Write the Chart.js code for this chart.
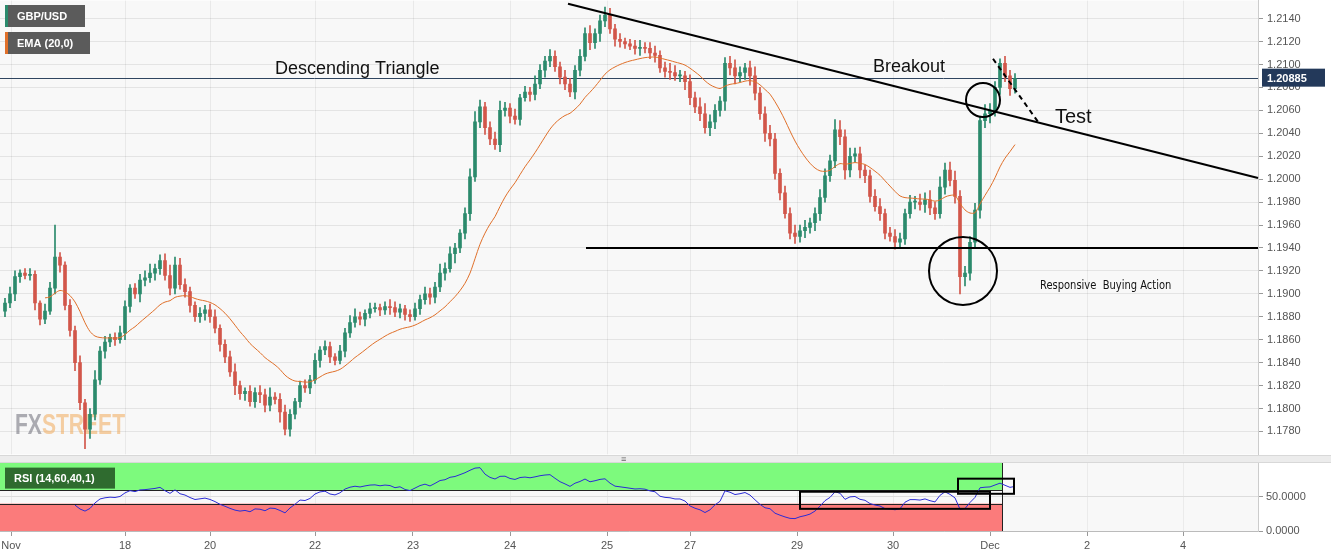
<!DOCTYPE html>
<html><head><meta charset="utf-8">
<script src="https://cdn.jsdelivr.net/npm/chart.js@4.4.1/dist/chart.umd.min.js"></script>
<style>
html,body{margin:0;padding:0;background:#fff;width:1331px;height:558px;overflow:hidden;font-family:Arial,"Liberation Sans",sans-serif}
#main{position:absolute;left:0;top:0;width:1331px;height:455px;overflow:hidden}
#main .in{position:absolute;left:0;top:-10px;width:1331px;height:475px}
#rsi{position:absolute;left:0;top:463px;width:1331px;height:95px;overflow:hidden}
#rsi .in{position:absolute;left:0;top:-10px;width:1331px;height:105px}
#sep{position:absolute;left:0;top:455px;width:1331px;height:8px;background:#ececec;border-top:1px solid #d8d8d8;border-bottom:1px solid #d8d8d8;box-sizing:border-box}
#sep span{position:absolute;left:621px;top:0px;font-size:9px;color:#666;line-height:7px}
</style></head><body>
<div id="main"><div class="in"><canvas id="c1"></canvas></div></div>
<div id="sep"><span>&#8801;</span></div>
<div id="rsi"><div class="in"><canvas id="c2"></canvas></div></div>
<script>
// ---- data ----
const closes = [
1.1892,1.1900,1.1915,1.1918,1.1916,1.1917,1.1892,1.1878,1.1885,1.1905,1.1932,1.1925,1.1890,1.1868,1.1840,1.1805,1.1782,1.1795,1.1825,1.1850,
1.1858,1.1862,1.1860,1.1866,1.1889,1.1905,1.1900,1.1912,1.1914,1.1918,1.1922,1.1929,1.1916,1.1905,1.1925,1.1908,1.1902,1.1890,1.1880,1.1883,
1.1886,1.1880,1.1870,1.1856,1.1845,1.1832,1.1820,1.1813,1.1815,1.1806,1.1814,1.1812,1.1803,1.1810,1.1808,1.1797,1.1782,1.1795,1.1806,1.1820,
1.1818,1.1825,1.1842,1.1851,1.1854,1.1845,1.1842,1.1850,1.1866,1.1875,1.1880,1.1878,1.1883,1.1887,1.1888,1.1886,1.1889,1.1888,1.1884,1.1887,
1.1882,1.1880,1.1887,1.1895,1.1900,1.1897,1.1906,1.1918,1.1922,1.1935,1.1940,1.1953,1.1970,1.2002,1.2050,1.2063,1.2045,1.2035,1.2030,1.2060,
1.2062,1.2055,1.2052,1.2071,1.2076,1.2074,1.2083,1.2095,1.2103,1.2107,1.2098,1.2089,1.2083,1.2076,1.2095,1.2107,1.2127,1.2119,1.2127,1.2138,
1.2143,1.2131,1.2122,1.2120,1.2118,1.2116,1.2114,1.2115,1.2114,1.2110,1.2108,1.2097,1.2094,1.2093,1.2090,1.2090,1.2085,1.2071,1.2063,1.2057,
1.2045,1.2050,1.2060,1.2068,1.2101,1.2097,1.2090,1.2093,1.2097,1.2090,1.2075,1.2057,1.2040,1.2035,1.2005,1.1988,1.1970,1.1953,1.1950,1.1955,
1.1958,1.1962,1.1970,1.1984,1.2003,1.2016,1.2043,1.2037,1.2008,1.2020,1.2022,1.2008,1.2003,1.1985,1.1976,1.1970,1.1953,1.1950,1.1945,1.1948,
1.1970,1.1980,1.1980,1.1978,1.1982,1.1975,1.1970,1.1993,1.2008,1.1999,1.1985,1.1915,1.1918,1.1945,1.1973,1.2051,1.2057,1.2060,1.2080,1.2101,
1.2090,1.2079,1.2088];
const firstOpen = 1.1885;
const wickUpPips = [
4,6,5,3,4,5,3,2,6,5,28,4,3,5,4,6,3,5,8,4,
5,3,4,6,5,3,4,5,6,8,4,5,6,9,7,6,5,4,3,5,
4,5,6,3,4,5,7,4,3,5,4,6,5,8,4,5,6,4,3,4,
5,4,6,3,5,4,3,5,4,6,7,4,3,5,4,3,4,6,5,4,
3,4,5,4,6,5,4,8,5,6,4,3,5,7,9,6,4,5,6,8,
5,4,6,3,5,4,7,5,4,6,5,4,6,5,4,6,5,7,4,5,
7,6,4,5,3,4,5,6,4,5,6,4,5,7,6,5,4,6,5,8,
9,6,5,4,5,6,7,5,4,6,8,5,6,7,5,4,6,5,7,5,
6,4,5,7,6,5,9,8,6,7,5,6,4,5,6,7,4,5,6,5,
4,6,5,7,6,8,5,9,6,7,8,5,6,5,6,4,8,6,5,4,
6,5,4];
const wickDnPips = [
5,4,6,5,3,4,6,5,4,3,5,6,4,5,7,6,17,8,5,4,
6,4,5,3,6,5,4,7,5,4,6,5,4,6,5,4,5,6,4,5,
6,5,4,6,5,4,8,5,6,4,5,7,6,5,4,9,5,6,4,5,
4,5,3,6,4,5,4,3,5,4,4,5,6,4,3,5,4,6,4,5,
5,4,3,5,4,6,5,4,6,3,8,4,5,6,4,5,6,5,4,6,
5,6,4,5,3,6,5,4,6,5,4,6,5,4,6,5,4,6,5,7,
5,4,6,5,4,3,5,6,4,5,6,4,5,6,4,5,7,6,5,6,
5,7,6,5,8,6,7,5,6,8,6,5,7,6,5,6,4,5,6,5,
6,5,7,6,4,5,6,7,8,6,5,7,6,5,4,6,5,4,6,5,
5,4,6,5,7,6,5,4,6,5,6,15,8,6,5,7,6,8,5,6,
5,6,4];
const dayLabels = ['Nov','18','20','22','23','24','25','27','29','30','Dec','2','4'];
const dayIndex = [1.2,24,41,62,81.6,101,120.4,137,158.4,177.6,197,216.4,235.6];
const priceTicks = [1.1780,1.1800,1.1820,1.1840,1.1860,1.1880,1.1900,1.1920,1.1940,1.1960,1.1980,1.2000,1.2020,1.2040,1.2060,1.2080,1.2100,1.2120,1.2140];
const lastPrice = 1.20885;
const trendLine = [[112.6,1.2153],[250.6,1.2001]];
const supportLine = [[116.2,1.1940],[250.6,1.1940]];
const testLine = [[197.6,1.2105],[206.6,1.2050]];
const circles = [[195.6,1.2069,17],[191.6,1.1920,34]];
const rsiBoxes = [[159,197,32.4,57.4],[190.6,201.8,54.4,76.5]];
const rsiBandEnd = 199.4;

// ---- derived ----
const opens = closes.map((c,i)=> i===0 ? firstOpen : closes[i-1]);
const highs = closes.map((c,i)=> Math.max(c,opens[i]) + wickUpPips[i]*0.0001);
const lows = closes.map((c,i)=> Math.min(c,opens[i]) - wickDnPips[i]*0.0001);
const GREEN='#2b8a6c', RED='#d2564a';
const cols = closes.map((c,i)=> c>=opens[i]?GREEN:RED);
const ema=[]; {const k=2/21; let e=closes[0]; closes.forEach((c,i)=>{e= i===0?c:c*k+e*(1-k); ema.push(i<8?null:e);});}
const rsi=[]; {let ag=0,al=0; for(let i=0;i<closes.length;i++){ if(i===0){rsi.push(null);continue;} const d=closes[i]-closes[i-1]; const g=Math.max(d,0), l=Math.max(-d,0);
 if(i<=14){ag+=g/14;al+=l/14; rsi.push(i<14?null:100-100/(1+ag/al));} else {ag=(ag*13+g)/14; al=(al*13+l)/14; rsi.push(100-100/(1+ag/(al||1e-9)));}}}

const XMIN=-1, XMAX=250.6;
const fixW = s=>{s.width=73;};
const noPad = s=>{s.paddingLeft=0;s.paddingRight=0;};

const annot = {
 id:'annot',
 beforeDatasetsDraw(ch){
  const {ctx,chartArea:a,scales:{x,y}}=ch;
  ctx.save();
  ctx.strokeStyle='rgba(0,0,0,0.06)'; ctx.lineWidth=1;
  dayIndex.forEach(d=>{const px=Math.round(x.getPixelForValue(d))+0.5; ctx.beginPath();ctx.moveTo(px,a.top);ctx.lineTo(px,a.bottom);ctx.stroke();});
  const py=Math.round(y.getPixelForValue(lastPrice))+0.5;
  ctx.strokeStyle='#2f4560'; ctx.beginPath(); ctx.moveTo(0,py); ctx.lineTo(a.right,py); ctx.stroke();
  ctx.font='bold 30px "Liberation Sans",Arial';
  ctx.textBaseline='alphabetic';
  const wa=ctx.measureText('FXSTREET').width, sc=110/wa;
  ctx.translate(15,444); ctx.scale(sc,1);
  ctx.fillStyle='rgba(120,120,130,0.6)'; ctx.fillText('FX',0,0);
  const w=ctx.measureText('FX').width;
  ctx.fillStyle='rgba(240,170,90,0.55)'; ctx.fillText('STREET',w,0);
  ctx.restore();
 },
 afterDatasetsDraw(ch){
  const {ctx,chartArea:a,scales:{x,y}}=ch;
  const P=(p)=>[x.getPixelForValue(p[0]),y.getPixelForValue(p[1])];
  ctx.save();
  ctx.strokeStyle='#000'; ctx.lineWidth=2;
  [trendLine,supportLine].forEach(l=>{const p1=P(l[0]),p2=P(l[1]);ctx.beginPath();ctx.moveTo(...p1);ctx.lineTo(...p2);ctx.stroke();});
  ctx.setLineDash([5,4]); {const p1=P(testLine[0]),p2=P(testLine[1]);ctx.beginPath();ctx.moveTo(...p1);ctx.lineTo(...p2);ctx.stroke();}
  ctx.setLineDash([]);
  circles.forEach(c=>{const p=P(c);ctx.beginPath();ctx.arc(p[0],p[1],c[2],0,Math.PI*2);ctx.stroke();});
  ctx.fillStyle='#111'; ctx.textBaseline='alphabetic';
  const T=10;
  ctx.font='18px Arial,"Liberation Sans"';
  ctx.fillText('Descending Triangle',275,74+T);
  ctx.fillText('Breakout',873,72+T);
  ctx.font='20px Arial,"Liberation Sans"';
  ctx.fillText('Test',1055,123+T);
  ctx.font='13px "Liberation Sans Narrow","DejaVu Sans Condensed",Arial';
  ctx.save(); ctx.translate(1040,289+T); ctx.scale(0.85,1); ctx.fillText('Responsive  Buying Action',0,0); ctx.restore();
  const box=(t,yy,w,c)=>{ctx.fillStyle='#5b5b5b';ctx.fillRect(5,yy,w,22);ctx.fillStyle=c;ctx.fillRect(5,yy,3,22);
   ctx.fillStyle='#fff';ctx.font='bold 11px Arial,"Liberation Sans"';ctx.fillText(t,17,yy+15);};
  box('GBP/USD',5+T,80,GREEN); box('EMA (20,0)',32+T,85,'#e0702a');
  const py=y.getPixelForValue(lastPrice);
  ctx.fillStyle='#23395a'; ctx.fillRect(1262,py-9,63,18);
  ctx.fillStyle='#fff'; ctx.font='bold 11px Arial,"Liberation Sans"'; ctx.fillText(lastPrice.toFixed(5),1267,py+4);
  ctx.restore();
 }
};
const bgPlugin={id:'bg',beforeDraw(ch){const {ctx,chartArea:a}=ch;ctx.save();ctx.fillStyle='#f8f8f8';ctx.fillRect(a.left,a.top,a.right-a.left,a.bottom-a.top);ctx.restore();}};

new Chart(document.getElementById('c1'),{
 type:'bar',
 data:{datasets:[
  {type:'line',data:ema.map((v,i)=>({x:i,y:v})),borderColor:'#e0702a',borderWidth:1,pointRadius:0,tension:0.3,order:0},
  {data:closes.map((c,i)=>({x:i,y:[lows[i],highs[i]]})),backgroundColor:cols,barThickness:1,grouped:false,order:2},
  {data:closes.map((c,i)=>({x:i,y:[opens[i],c]})),backgroundColor:cols,barThickness:3,grouped:false,minBarLength:1,order:1}
 ]},
 options:{responsive:true,maintainAspectRatio:false,animation:false,
  layout:{padding:0},
  plugins:{legend:{display:false},tooltip:{enabled:false}},
  scales:{
   x:{type:'linear',min:XMIN,max:XMAX,display:false,offset:false},
   y:{position:'right',min:1.1760,max:1.21557,afterFit:fixW,
      afterBuildTicks:s=>{s.ticks=priceTicks.map(v=>({value:v}));},
      ticks:{color:'#555',font:{size:11,family:'Arial'},callback:v=>v.toFixed(4),padding:4},
      grid:{color:'#e4e4e4',tickLength:5,tickColor:'#999'},border:{color:'#ccc'}}
  }},
 plugins:[bgPlugin,annot]
});

const rsiPlugin={id:'rsiP',
 beforeDatasetsDraw(ch){const {ctx,chartArea:a,scales:{x,y}}=ch; ctx.save();
  const xe=x.getPixelForValue(rsiBandEnd);
  ctx.fillStyle='#7dfa7d'; ctx.fillRect(a.left,y.getPixelForValue(100),xe-a.left,y.getPixelForValue(60)-y.getPixelForValue(100));
  ctx.fillStyle='#fb7b7b'; ctx.fillRect(a.left,y.getPixelForValue(40),xe-a.left,y.getPixelForValue(0)-y.getPixelForValue(40));
  ctx.strokeStyle='#222';ctx.lineWidth=1;
  [60,40].forEach(v=>{const py=Math.round(y.getPixelForValue(v))+0.5;ctx.beginPath();ctx.moveTo(a.left,py);ctx.lineTo(xe,py);ctx.stroke();});
  ctx.beginPath();ctx.moveTo(Math.round(xe)+0.5,a.top);ctx.lineTo(Math.round(xe)+0.5,a.bottom);ctx.stroke();
  ctx.restore();},
 afterDatasetsDraw(ch){const {ctx,chartArea:a,scales:{x,y}}=ch; ctx.save();
  ctx.strokeStyle='#000';ctx.lineWidth=2;
  rsiBoxes.forEach(b=>{const x1=x.getPixelForValue(b[0]),x2=x.getPixelForValue(b[1]),y1=y.getPixelForValue(b[3]),y2=y.getPixelForValue(b[2]);ctx.strokeRect(x1,y1,x2-x1,y2-y1);});
  ctx.fillStyle='#2f6b2f';ctx.fillRect(5,a.top+5,110,21);
  ctx.fillStyle='#fff';ctx.font='bold 11px "Liberation Sans Narrow",Arial';ctx.fillText('RSI (14,60,40,1)',14,a.top+19);
  ctx.restore();}
};
new Chart(document.getElementById('c2'),{
 type:'line',
 data:{datasets:[{data:rsi.map((v,i)=>({x:i,y:v})),borderColor:'#2b2bd6',borderWidth:1,pointRadius:0,tension:0}]},
 options:{responsive:true,maintainAspectRatio:false,animation:false,layout:{padding:0},
  plugins:{legend:{display:false},tooltip:{enabled:false}},
  scales:{
   x:{type:'linear',min:XMIN,max:XMAX,afterFit:s=>{s.height=27;noPad(s);},
      afterBuildTicks:s=>{s.ticks=dayIndex.map(v=>({value:v}));},
      ticks:{color:'#555',font:{size:11,family:'"Liberation Sans Narrow",Arial'},maxRotation:0,autoSkip:false,
        callback:(v)=>{const k=dayIndex.indexOf(v);return k>=0?dayLabels[k]:'';}},
      grid:{color:'rgba(0,0,0,0.05)',tickLength:5,tickColor:'#999'},border:{color:'#bbb'}},
   y:{position:'right',min:0,max:100,afterFit:fixW,
      afterBuildTicks:s=>{s.ticks=[{value:0},{value:50}];},
      ticks:{color:'#555',font:{size:11,family:'"Liberation Sans Narrow",Arial'},callback:v=>v.toFixed(4)},
      grid:{color:'#ddd',tickLength:5,tickColor:'#999'},border:{color:'#ccc'}}
  }},
 plugins:[bgPlugin,rsiPlugin]
});
</script></body></html>
